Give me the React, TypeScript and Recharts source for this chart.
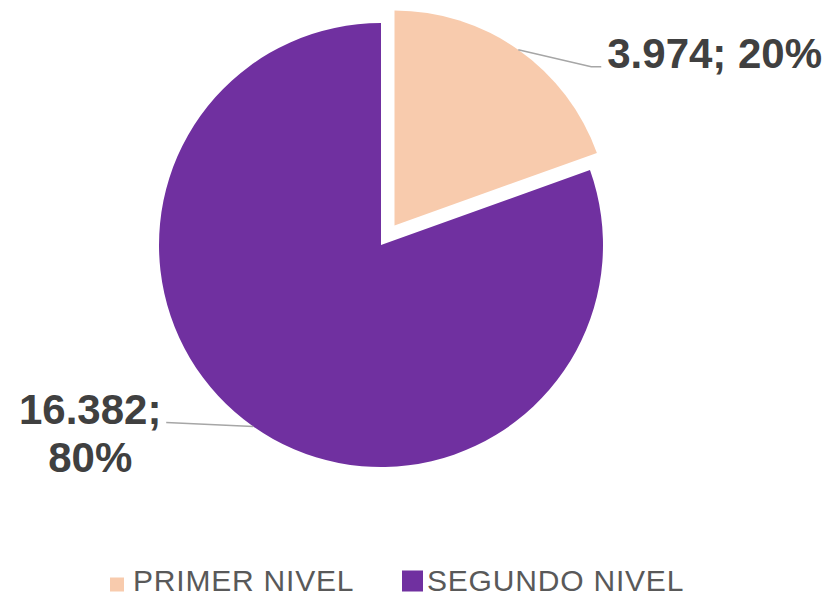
import { PieChart, Pie, Cell, Legend } from "recharts";

const categories = ["PRIMER NIVEL", "SEGUNDO NIVEL"];
const values = [3974, 16382];
const colors = ["#F8CBAD", "#7030A0"];

const data = categories.map((name, i) => ({ name, value: values[i] }));

const RADIAN = Math.PI / 180;
const FONT = "'Liberation Sans', Arial, sans-serif";

// 3.974 style thousands separator
const fmt = (v: number) => String(v).replace(/\B(?=(\d{3})+(?!\d))/g, ".");

const edgePoint = (cx: number, cy: number, r: number, midAngle: number) => ({
  x: cx + r * Math.cos(-midAngle * RADIAN),
  y: cy + r * Math.sin(-midAngle * RADIAN),
});

function PrimerLabel(props: any) {
  const { cx, cy, midAngle, outerRadius, value, percent, index } = props;
  if (index !== 0) return null;
  const p = edgePoint(cx, cy, outerRadius, midAngle);
  const elbow = { x: p.x + 73, y: p.y + 17 };
  const end = { x: elbow.x + 10, y: elbow.y };
  return (
    <g>
      <polyline
        points={`${p.x},${p.y} ${elbow.x},${elbow.y} ${end.x},${end.y}`}
        fill="none"
        stroke="#a6a6a6"
        strokeWidth={1.5}
      />
      <text
        x={end.x + 6}
        y={end.y + 1}
        fill="#404040"
        fontFamily={FONT}
        fontWeight="bold"
        fontSize={42}
        textAnchor="start"
      >
        {`${fmt(value)}; ${Math.round(percent * 100)}%`}
      </text>
    </g>
  );
}

function SegundoLabel(props: any) {
  const { cx, cy, midAngle, outerRadius, value, percent, index } = props;
  if (index !== 1) return null;
  const p = edgePoint(cx, cy, outerRadius, midAngle);
  const end = { x: p.x - 87, y: p.y - 4 };
  return (
    <g>
      <polyline
        points={`${p.x},${p.y} ${end.x},${end.y}`}
        fill="none"
        stroke="#a6a6a6"
        strokeWidth={1.5}
      />
      <text
        x={end.x - 76}
        y={end.y + 1}
        fill="#404040"
        fontFamily={FONT}
        fontWeight="bold"
        fontSize={42}
        textAnchor="middle"
      >
        <tspan x={end.x - 76}>{`${fmt(value)};`}</tspan>
        <tspan x={end.x - 76} dy={48}>{`${Math.round(percent * 100)}%`}</tspan>
      </text>
    </g>
  );
}

function LegendContent() {
  const items = [
    { sq: 14, sqX: 110, textX: 133 },
    { sq: 21, sqX: 402, textX: 427 },
  ];
  return (
    <svg width={830} height={37} style={{ overflow: "visible" }}>
      {items.map((it, i) => (
        <g key={categories[i]}>
          <rect x={it.sqX} y={31.5 - it.sq} width={it.sq} height={it.sq} fill={colors[i]} />
          <text
            x={it.textX}
            y={30.5}
            fill="#595959"
            fontFamily={FONT}
            fontSize={30}
            letterSpacing={0.8}
          >
            {categories[i]}
          </text>
        </g>
      ))}
    </svg>
  );
}

export default function App() {
  return (
    <div style={{ position: "absolute", left: 0, top: 0, width: 830, height: 597, background: "#fff" }}>
      <PieChart width={830} height={597} margin={{ top: 0, right: 0, bottom: 0, left: 0 }}>
        <Pie
          data={data}
          dataKey="value"
          nameKey="name"
          cx={381}
          cy={245}
          outerRadius={222}
          startAngle={90}
          endAngle={-270}
          stroke="none"
          label={SegundoLabel}
          labelLine={false}
          isAnimationActive={false}
        >
          {data.map((d, i) => (
            <Cell key={d.name} fill={i === 1 ? colors[1] : "none"} />
          ))}
        </Pie>
        <Pie
          data={data}
          dataKey="value"
          nameKey="name"
          cx={394.5}
          cy={225.5}
          outerRadius={215}
          startAngle={90}
          endAngle={-270}
          stroke="none"
          label={PrimerLabel}
          labelLine={false}
          isAnimationActive={false}
        >
          {data.map((d, i) => (
            <Cell key={d.name} fill={i === 0 ? colors[0] : "none"} />
          ))}
        </Pie>
        <Legend
          content={LegendContent}
          wrapperStyle={{ position: "absolute", left: 0, top: 560, width: 830, height: 37 }}
        />
      </PieChart>
    </div>
  );
}
